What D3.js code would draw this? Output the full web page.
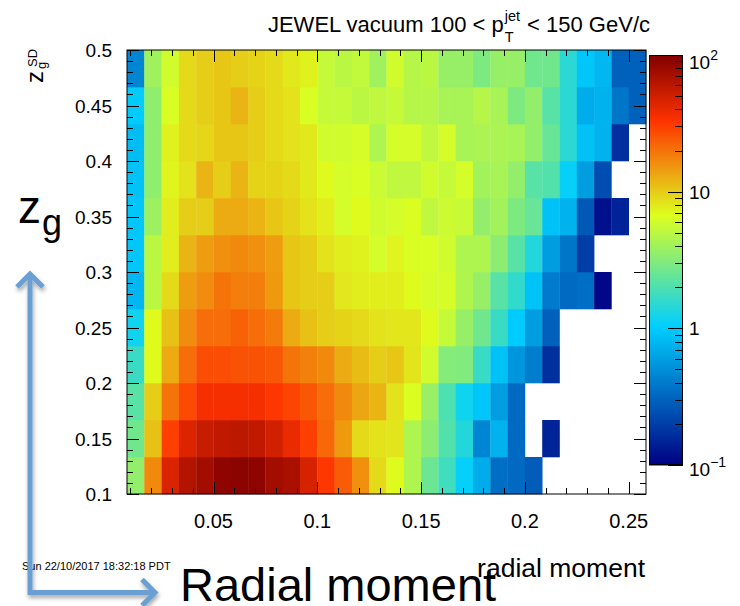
<!DOCTYPE html>
<html><head><meta charset="utf-8">
<script src="https://cdn.jsdelivr.net/npm/d3@7/dist/d3.min.js"></script>
<style>
body{margin:0;background:#fff}
svg{display:block}
text{font-family:"Liberation Sans",Arial,Helvetica,sans-serif;fill:#000}
</style>
</head><body>
<svg id="c" width="740" height="606"></svg>
<script>
// ---------------- data ----------------
const xRange = [0.008333, 0.258333];   // radial moment histogram range
const nXBins = 30;
const yRange = [0.1, 0.5];             // z_g range
const nYBins = 12;
// counts per bin, row 0 = lowest z_g bin, null = empty bin
const row0  = [3.6, 17, 46, 65, 75, 90, 92, 90, 75, 70, 48, 32, 24, 16, 9, 7, 4.5, 2.6, 1.8, 1.1, 0.7, 0.35, 0.33, 0.28, null, null, null, null, null, null];
const row1  = [2.7, 11, 30, 45, 55, 58, 60, 58, 50, 40, 30, 22, 15, 9, 8.5, 8.3, 4.5, 3.4, 2.1, 1.4, 0.45, 0.75, 0.33, null, 0.15, null, null, null, null, null];
const row2  = [2.2, 10, 20, 28, 36, 36, 36, 36, 32, 29, 25, 21, 17, 13.5, 12, 8.5, 6.6, 3.8, 2.0, 1.2, 0.95, 0.6, 0.33, null, null, null, null, null, null, null];
const row3  = [1.7, 7, 13, 21, 27, 27, 26, 26, 25, 20, 18, 17, 13, 11.5, 10, 10.5, 8.3, 6, 3.2, 3.1, 1.7, 0.9, 0.55, 0.42, 0.17, null, null, null, null, null];
const row4  = [1.2, 7, 11, 16.5, 21, 21, 23, 21, 19, 13, 11, 10, 9.5, 9, 8.5, 8.2, 8.2, 7, 5.5, 3.7, 2.7, 1.7, 1.0, 0.6, 0.3, null, null, null, null, null];
const row5  = [0.8, 5, 9, 14.5, 16.5, 20, 18.5, 18.5, 15, 10.5, 10, 10, 8, 7.8, 7.7, 7.7, 7, 6.3, 6.3, 4.6, 3.7, 2.2, 1.6, 0.9, 0.4, 0.33, 0.35, 0.11, null, null];
const row6  = [0.95, 5, 7.8, 12, 14.5, 16, 17, 16, 14.5, 10.5, 10, 8.5, 7.8, 7.5, 6.2, 7.3, 6.5, 6.5, 6, 4.5, 4.5, 3.4, 2.2, 1.4, 0.6, 0.38, 0.2, null, null, null];
const row7  = [0.95, 3.9, 7.8, 10, 10, 13, 13, 12, 10.5, 9.5, 8.5, 7.7, 6.2, 7, 6, 6.2, 6.6, 5.2, 5.8, 5.6, 3.6, 4.1, 3, 2.5, 0.9, 0.75, 0.27, 0.12, 0.15, null];
const row8  = [0.9, 3.5, 7.3, 8.5, 12, 10, 12, 9.5, 9.5, 9, 8, 7, 6.2, 6.5, 5.7, 5.2, 5.2, 6, 5.5, 6.2, 4.1, 4.3, 3.6, 2.2, 2.1, 1.1, 0.6, 0.24, null, null];
const row9  = [0.85, 3.5, 7.5, 9, 9.3, 10.5, 10.5, 10, 9, 8.5, 8, 6, 6, 6.3, 4.5, 6.2, 6.2, 5.2, 6.2, 4.3, 4.4, 4.4, 4.3, 3.6, 2.5, 1.5, 0.9, 0.75, 0.17, null];
const row10 = [1.0, 3.5, 6.5, 9, 10, 10.5, 12, 10, 9, 8.5, 6.5, 5.5, 5.5, 5, 5.2, 5.5, 4.8, 4.8, 4.3, 4.3, 4.8, 4.3, 3, 3.6, 2.2, 1.5, 0.7, 0.75, 0.38, 0.3];
const row11 = [0.45, 4, 6, 9, 10, 10.5, 10, 9.5, 9, 8, 7.5, 5.5, 5, 5.3, 4, 6, 4.8, 5, 3.7, 3.7, 3, 3.7, 3.7, 2.7, 2.7, 1.5, 0.95, 0.8, 0.3, 0.3];
const zRows = [row0,row1,row2,row3,row4,row5,row6,row7,row8,row9,row10,row11];

const xTicks = [0.05, 0.1, 0.15, 0.2, 0.25];
const xTickLabels = ["0.05", "0.1", "0.15", "0.2", "0.25"];
const yTicks = [0.1, 0.15, 0.2, 0.25, 0.3, 0.35, 0.4, 0.45, 0.5];
const yTickLabels = ["0.1", "0.15", "0.2", "0.25", "0.3", "0.35", "0.4", "0.45", "0.5"];
const zRange = [0.1, 100];
// palette (stops, colours)
const palStops = [0, 0.34, 0.61, 0.84, 1];
const palColors = ["rgb(0,0,130)", "rgb(0,207,255)", "rgb(222,255,31)", "rgb(255,51,0)", "rgb(130,0,0)"];

// ---------------- layout ----------------
const svg = d3.select("#c");
const P = {l:127, r:646, t:50, b:494};
const CB = {l:649, r:683, t:55, b:465};

const x = d3.scaleLinear().domain(xRange).range([P.l, P.r]);
const y = d3.scaleLinear().domain(yRange).range([P.b, P.t]);
const pal = d3.scaleLinear().domain(palStops).range(palColors).interpolate(d3.interpolateRgb).clamp(true);
const zt = d3.scaleLog().domain(zRange).range([0,1]).clamp(true);
const color = v => pal(zt(v));

// ---------------- cells ----------------
const bw = (xRange[1]-xRange[0])/nXBins, bh = (yRange[1]-yRange[0])/nYBins;
const cells = [];
zRows.forEach((row,j)=>row.forEach((v,i)=>{ if(v!=null) cells.push({i,j,v}); }));
svg.append("g").selectAll("rect").data(cells).join("rect")
  .attr("x", d=>x(xRange[0]+d.i*bw))
  .attr("y", d=>y(yRange[0]+(d.j+1)*bh))
  .attr("width", d=>x(xRange[0]+(d.i+1)*bw)-x(xRange[0]+d.i*bw)+0.3)
  .attr("height", d=>y(yRange[0]+d.j*bh)-y(yRange[0]+(d.j+1)*bh)+0.3)
  .attr("fill", d=>color(d.v));

// ---------------- frame & ticks ----------------
const g = svg.append("g").attr("stroke","#000").attr("stroke-width",1).attr("fill","none");
g.append("rect").attr("x",P.l).attr("y",P.t).attr("width",P.r-P.l).attr("height",P.b-P.t);
const xMinor = d3.range(1,26).map(k=>k/100);
xMinor.forEach(v=>{
  const major = Math.abs(v*20-Math.round(v*20))<1e-6;
  const L = major?12:6, xx = Math.round(x(v))+0.5;
  g.append("line").attr("x1",xx).attr("x2",xx).attr("y1",P.b).attr("y2",P.b-L);
  g.append("line").attr("x1",xx).attr("x2",xx).attr("y1",P.t).attr("y2",P.t+L);
});
const yMinor = d3.range(10,51).map(k=>k/100);
yMinor.forEach(v=>{
  const major = Math.abs(v*20-Math.round(v*20))<1e-6;
  const L = major?12:6, yy = Math.round(y(v))+0.5;
  g.append("line").attr("x1",P.l).attr("x2",P.l+L).attr("y1",yy).attr("y2",yy);
  g.append("line").attr("x1",P.r).attr("x2",P.r-L).attr("y1",yy).attr("y2",yy);
});

// tick labels
svg.append("g").selectAll("text").data(xTicks).join("text")
  .attr("x",d=>x(d)).attr("y",528).attr("text-anchor","middle")
  .attr("font-size",20).text((d,i)=>xTickLabels[i]);
svg.append("g").selectAll("text").data(yTicks).join("text")
  .attr("x",112).attr("y",d=>y(d)+7).attr("text-anchor","end")
  .attr("font-size",19).text((d,i)=>yTickLabels[i]);

// ---------------- colour bar ----------------
const cbs = d3.scaleLog().domain(zRange).range([CB.b, CB.t]);
const nSteps = 205;
const steps = d3.range(nSteps);
svg.append("g").selectAll("rect").data(steps).join("rect")
  .attr("x",CB.l).attr("width",CB.r-CB.l)
  .attr("y",k=>CB.b-(k+1)*(CB.b-CB.t)/nSteps)
  .attr("height",(CB.b-CB.t)/nSteps+0.5)
  .attr("fill",k=>pal((k+0.5)/nSteps));
const cg = svg.append("g").attr("stroke","#000").attr("fill","none");
cg.append("rect").attr("x",CB.l+0.5).attr("y",CB.t+0.5).attr("width",CB.r-CB.l-1).attr("height",CB.b-CB.t-1);
const cbTicks = [];
[0.1,1,10].forEach(dec=>{ for(let m=1;m<=9;m++) cbTicks.push(dec*m); });
cbTicks.push(100);
cbTicks.forEach(v=>{
  const lg = Math.log10(v), major = Math.abs(lg-Math.round(lg))<1e-9;
  const yy = Math.round(cbs(v))+0.5, L = major?15:8;
  cg.append("line").attr("x1",CB.r).attr("x2",CB.r-L).attr("y1",yy).attr("y2",yy);
});
// colour bar labels
function powLabel(xp, yp, base, exp){
  const t = svg.append("text").attr("x",xp).attr("y",yp).attr("font-size",19);
  t.append("tspan").text(base);
  if(exp!==null) t.append("tspan").attr("font-size",14).attr("dy",-9).text(exp);
}
powLabel(689, cbs(100)+14, "10", "2");
powLabel(689, cbs(10)+7, "10", null);
powLabel(689, cbs(1)+7, "1", null);
powLabel(689, cbs(0.1)+11, "10", "\u22121");

// ---------------- titles ----------------
// main title
(function(){
  const base = 32, fs = 22, fsS = 14.5;
  const tg = svg.append("g");
  const t1 = tg.append("text").attr("y",base).attr("font-size",fs).text("JEWEL vacuum 100 < p");
  const w1 = t1.node().getComputedTextLength();
  const sup = tg.append("text").attr("y",base-11).attr("font-size",fsS).text("jet");
  const sub = tg.append("text").attr("y",base+10).attr("font-size",fsS).text("T");
  const ws = Math.max(sup.node().getComputedTextLength(), sub.node().getComputedTextLength());
  const t2 = tg.append("text").attr("y",base).attr("font-size",fs).text("< 150 GeV/c");
  const w2 = t2.node().getComputedTextLength();
  const gap = 7;
  const total = w1 + 1 + ws + gap + w2;
  const x0 = 650 - total;
  t1.attr("x",x0);
  sup.attr("x",x0+w1+1); sub.attr("x",x0+w1+1);
  t2.attr("x",x0+w1+1+ws+gap);
})();

// y axis title  z_g^SD (rotated)
(function(){
  const yg = svg.append("g").attr("transform","translate(43,83) rotate(-90)");
  const z = yg.append("text").attr("x",0).attr("y",0).attr("font-size",24).text("z");
  const wz = z.node().getComputedTextLength();
  yg.append("text").attr("x",wz+2).attr("y",3).attr("font-size",13).text("g");
  yg.append("text").attr("x",wz+4).attr("y",-6).attr("font-size",13).text("SD");
})();

// x axis title
svg.append("text").attr("x",645).attr("y",577).attr("text-anchor","end")
  .attr("font-size",26.5).text("radial moment");

// date stamp
svg.append("text").attr("x",22).attr("y",570).attr("font-size",11).text("Sun 22/10/2017 18:32:18 PDT");

// ---------------- slide annotations ----------------
const defs = svg.append("defs");
const f = defs.append("filter").attr("id","sh").attr("x","-20%").attr("y","-20%").attr("width","140%").attr("height","140%");
f.append("feDropShadow").attr("dx",1).attr("dy",3).attr("stdDeviation",2).attr("flood-color","#000").attr("flood-opacity",0.35);
const ag = svg.append("g").attr("stroke","#6b9fd3").attr("stroke-width",5).attr("fill","none")
  .attr("stroke-linecap","butt").attr("stroke-linejoin","miter").attr("filter","url(#sh)");
ag.append("path").attr("d","M30,274 L30,592.5 L154,592.5");
ag.append("path").attr("d","M17,287 L30,274 L43,287");
ag.append("path").attr("d","M142,579.5 L155,592.5 L142,605.5");

svg.append("text").attr("x",18).attr("y",223).attr("font-size",46).text("z");
svg.append("text").attr("x",42).attr("y",235).attr("font-size",36).text("g");
svg.append("text").attr("x",180).attr("y",601).attr("font-size",47).text("Radial moment");
</script>
</body></html>
